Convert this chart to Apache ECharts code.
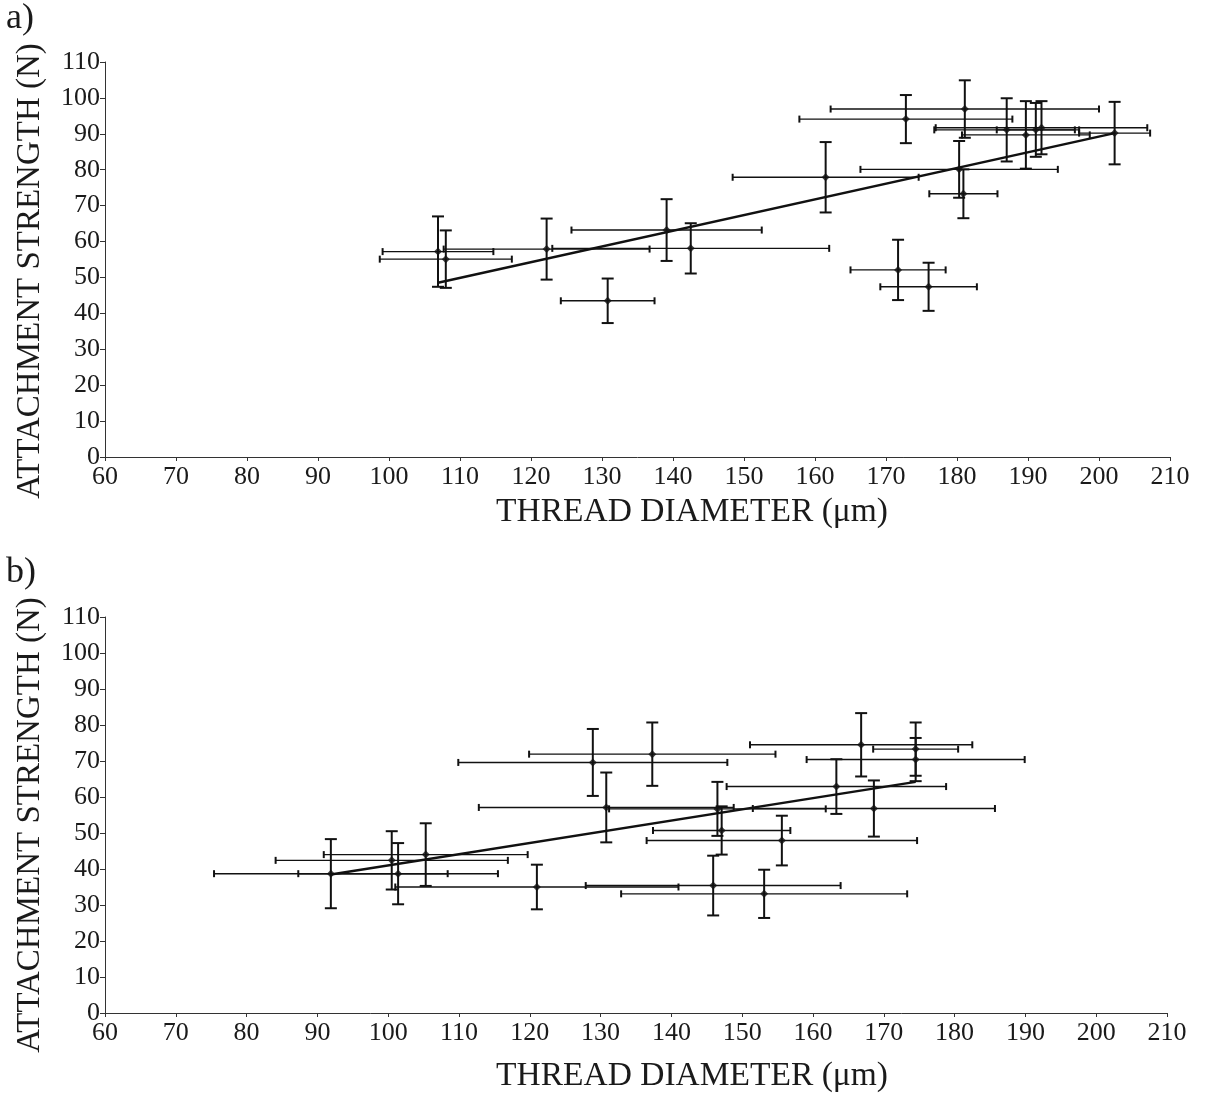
<!DOCTYPE html>
<html>
<head>
<meta charset="utf-8">
<script src="https://cdn.jsdelivr.net/npm/echarts@6/dist/echarts.min.js"></script>
<style>
html,body{margin:0;padding:0;background:#fff;}
#chart{width:1207px;height:1095px;}
</style>
</head>
<body>
<div id="chart"></div>
<script>
// ---------- tick labels ----------
const xTickLabels = [60,70,80,90,100,110,120,130,140,150,160,170,180,190,200,210];
const yTickLabels = [0,10,20,30,40,50,60,70,80,90,100,110];

// ---------- panel a ----------
const aDiameter    = [106.9,108.0,122.2,130.8,139.1,142.5,161.5,172.8,181.1,187.0,189.7,191.1,191.9,202.2,180.3,180.9,171.7,176.0];
const aStrength    = [57.2, 55.1, 57.9, 43.5, 63.2, 58.1, 77.9, 94.1, 96.9, 91.1, 89.7, 91.1, 91.7, 90.2, 80.1, 73.3, 52.1, 47.4];
const aDiameterErr = [7.8,  9.3,  14.5, 6.6,  13.4, 19.5, 13.1, 15.0, 18.9, 10.2, 9.0,  5.5,  14.9, 5.0,  13.9, 4.8,  6.7,  6.8];
const aStrengthErr = [9.8,  8.0,  8.5,  6.2,  8.6,  7.0,  9.8,  6.7,  8.0,  8.8,  9.4,  7.5,  7.4,  8.7,  7.9,  6.8,  8.4,  6.7];
const aFitX = [106.9, 202.2];
const aFitY = [48.5, 90.2];

// ---------- panel b ----------
const bDiameter    = [91.9, 100.5,101.4,105.3,121.0,130.8,128.9,146.5,137.3,147.1,155.6,145.9,153.1,163.3,168.6,166.8,174.5,174.5];
const bStrength    = [38.7, 42.4, 38.7, 44.0, 35.0, 57.1, 69.6, 56.7, 71.9, 50.7, 47.9, 35.4, 33.1, 62.9, 56.8, 74.5, 73.3, 70.4];
const bDiameterErr = [16.5, 16.4, 14.1, 14.4, 20.0, 18.0, 19.0, 15.3, 17.4, 9.7,  19.1, 18.0, 20.2, 15.5, 17.1, 15.7, 6.0,  15.4];
const bStrengthErr = [9.6,  8.1,  8.5,  8.7,  6.2,  9.7,  9.3,  7.5,  8.8,  6.7,  6.9,  8.3,  6.7,  7.6,  7.8,  8.8,  7.4,  6.0];
const bFitX = [91.9, 174.5];
const bFitY = [38.5, 64.2];

// ---------- build ----------
const serif = '"Liberation Serif","DejaVu Serif",serif';
const ink = '#111';

function rows(xs, ys, exs, eys) {
  return xs.map((x, i) => [x, ys[i], exs[i], eys[i]]);
}

function errRender(params, api) {
  const x = api.value(0), y = api.value(1), ex = api.value(2), ey = api.value(3);
  const l = api.coord([x - ex, y]), r = api.coord([x + ex, y]);
  const t = api.coord([x, y + ey]), b = api.coord([x, y - ey]);
  const hc = 3.5, vc = 6;
  const st = {stroke: ink, lineWidth: 1.4};
  const sv = {stroke: ink, lineWidth: 2};
  return {
    type: 'group',
    children: [
      {type: 'line', shape: {x1: l[0], y1: l[1], x2: r[0], y2: r[1]}, style: st},
      {type: 'line', shape: {x1: l[0], y1: l[1] - hc, x2: l[0], y2: l[1] + hc}, style: sv},
      {type: 'line', shape: {x1: r[0], y1: r[1] - hc, x2: r[0], y2: r[1] + hc}, style: sv},
      {type: 'line', shape: {x1: t[0], y1: t[1], x2: b[0], y2: b[1]}, style: sv},
      {type: 'line', shape: {x1: t[0] - vc, y1: t[1], x2: t[0] + vc, y2: t[1]}, style: sv},
      {type: 'line', shape: {x1: b[0] - vc, y1: b[1], x2: b[0] + vc, y2: b[1]}, style: sv}
    ]
  };
}

function xAxisDef(gi) {
  return {
    type: 'value', gridIndex: gi,
    min: xTickLabels[0], max: xTickLabels[xTickLabels.length - 1],
    interval: xTickLabels[1] - xTickLabels[0],
    axisLine: {show: true, lineStyle: {color: '#333', width: 1}},
    axisTick: {show: true, length: 4, inside: false, lineStyle: {color: '#333'}},
    splitLine: {show: false},
    axisLabel: {color: '#1a1a1a', fontFamily: serif, fontSize: 26, margin: 7}
  };
}
function yAxisDef(gi) {
  return {
    type: 'value', gridIndex: gi,
    min: yTickLabels[0], max: yTickLabels[yTickLabels.length - 1],
    interval: yTickLabels[1] - yTickLabels[0],
    axisLine: {show: true, lineStyle: {color: '#333', width: 1}},
    axisTick: {show: true, length: 5, lineStyle: {color: '#333'}},
    splitLine: {show: false},
    axisLabel: {color: '#1a1a1a', fontFamily: serif, fontSize: 26, margin: 5}
  };
}

function panelSeries(gi, xs, ys, exs, eys, fx, fy) {
  return [
    {
      type: 'custom', xAxisIndex: gi, yAxisIndex: gi,
      renderItem: errRender,
      encode: {x: 0, y: 1},
      data: rows(xs, ys, exs, eys),
      z: 2, silent: true
    },
    {
      type: 'scatter', xAxisIndex: gi, yAxisIndex: gi,
      symbol: 'diamond', symbolSize: 8,
      itemStyle: {color: ink},
      data: xs.map((x, i) => [x, ys[i]]),
      z: 4
    },
    {
      type: 'line', xAxisIndex: gi, yAxisIndex: gi,
      showSymbol: false, symbol: 'none',
      lineStyle: {color: ink, width: 2.5},
      data: fx.map((x, i) => [x, fy[i]]),
      z: 3
    }
  ];
}

function txt(text, x, y, size, rot) {
  return {
    type: 'text', x: x, y: y, rotation: rot || 0,
    style: {text: text, font: size + 'px ' + serif, fill: '#1a1a1a',
            textAlign: 'center', textVerticalAlign: 'middle'}
  };
}

const option = {
  backgroundColor: '#ffffff',
  animation: false,
  grid: [
    {left: 105, top: 62, width: 1065, height: 395},
    {left: 105, top: 617, width: 1062, height: 396}
  ],
  xAxis: [xAxisDef(0), xAxisDef(1)],
  yAxis: [yAxisDef(0), yAxisDef(1)],
  series: [].concat(
    panelSeries(0, aDiameter, aStrength, aDiameterErr, aStrengthErr, aFitX, aFitY),
    panelSeries(1, bDiameter, bStrength, bDiameterErr, bStrengthErr, bFitX, bFitY)
  ),
  graphic: [
    {type: 'text', left: 6, top: 1, style: {text: 'a)', font: '36px ' + serif, fill: '#1a1a1a'}},
    {type: 'text', left: 6, top: 555, style: {text: 'b)', font: '36px ' + serif, fill: '#1a1a1a'}},
    txt('ATTACHMENT STRENGTH (N)', 30, 271, 33, Math.PI / 2),
    txt('ATTACHMENT STRENGTH (N)', 30, 825, 33, Math.PI / 2),
    txt('THREAD DIAMETER (\u03bcm)', 692, 512, 33.5),
    txt('THREAD DIAMETER (\u03bcm)', 692, 1076, 33.5)
  ]
};

const chart = echarts.init(document.getElementById('chart'), null, {renderer: 'canvas'});
chart.setOption(option);
</script>
</body>
</html>
